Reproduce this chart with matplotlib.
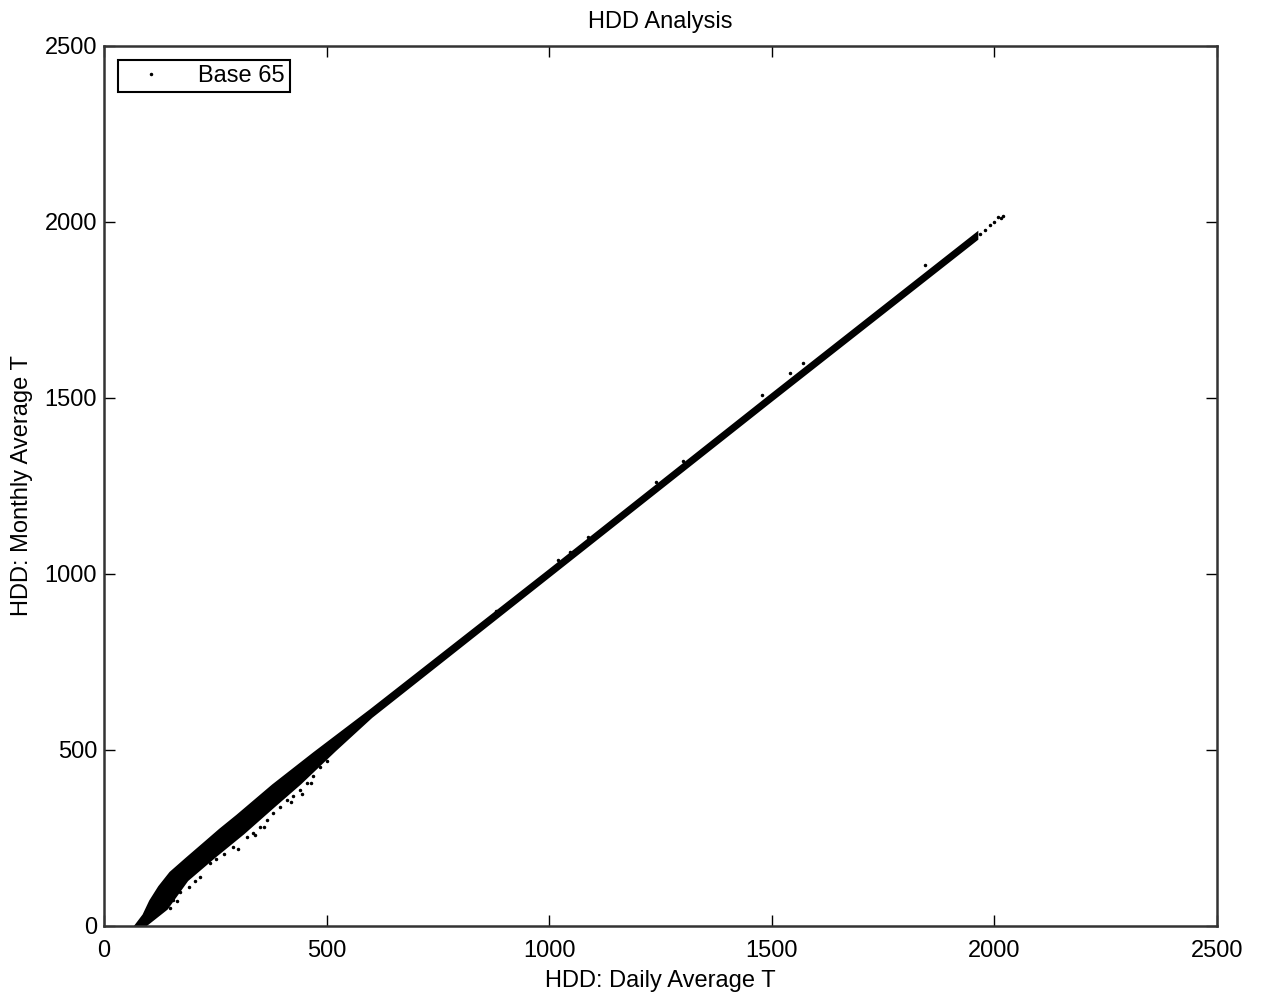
import numpy as np
import matplotlib.pyplot as plt

plt.rcParams['font.family'] = ['Liberation Sans', 'DejaVu Sans']

# dense part of the cloud: upper and lower edge of the band
band_upper_x = [72, 90, 105, 125, 150, 186, 230, 261, 300, 380, 473, 600, 1000, 1500, 1960]
band_upper_y = [0, 30, 70, 110, 150, 190, 238, 272, 312, 398, 490, 612, 1008, 1508, 1965]
band_lower_x = [90, 140, 186, 250, 312, 380, 440, 518, 600, 1000, 1500, 1960]
band_lower_y = [0, 50, 131, 200, 264, 340, 406, 500, 595, 995, 1495, 1952]

# scattered points below the band
low_x = [105, 118, 133, 148, 155, 163, 171, 190, 205, 216, 238, 252, 270, 290, 300, 321,
         335, 340, 350, 360, 366, 380, 395, 411, 420, 425, 440, 445, 456, 465, 470, 485, 500]
low_y = [30, 45, 54, 51, 74, 70, 97, 110, 128, 139, 179, 190, 205, 225, 218, 253,
         265, 258, 282, 280, 301, 320, 338, 358, 352, 370, 385, 375, 406, 405, 425, 452, 468]

# specks just above the line and the sparse tail
high_x = [880, 1020, 1047, 1087, 1240, 1300, 1478, 1541, 1570, 1844,
          1968, 1980, 1990, 2000, 2008, 2015, 2020]
high_y = [895, 1040, 1062, 1105, 1262, 1322, 1508, 1571, 1600, 1878,
          1966, 1977, 1991, 1999, 2014, 2012, 2018]

fig = plt.figure(figsize=(12.61, 9.99), dpi=100)
ax = fig.add_axes([0.0825, 0.0731, 0.8826, 0.8809])

ax.fill(np.r_[band_upper_x, band_lower_x[::-1]], np.r_[band_upper_y, band_lower_y[::-1]],
        color='k', lw=2.5)
pts, = ax.plot(low_x + high_x, low_y + high_y, '.', color='k', ms=3, label='Base 65')

ax.set_xlim(0, 2500)
ax.set_ylim(0, 2500)
ax.set_xticks(np.arange(0, 2501, 500))
ax.set_yticks(np.arange(0, 2501, 500))
ax.tick_params(direction='in', length=8, width=1, top=True, right=True, labelsize=17)
ax.tick_params(axis='x', pad=10)
ax.tick_params(axis='y', pad=5)
for sp in ax.spines.values():
    sp.set_linewidth(1.8)
    sp.set_color('#333333')

ax.set_title('HDD Analysis', fontsize=17, pad=13)
ax.set_xlabel('HDD: Daily Average T', fontsize=17, labelpad=6)
ax.set_ylabel('HDD: Monthly Average T', fontsize=17, labelpad=8)

leg = ax.legend(handles=[pts], loc='upper left', fontsize=17, fancybox=False,
                edgecolor='k', framealpha=1, borderpad=0.2, handlelength=2.4,
                handletextpad=0.8, markerscale=1, borderaxespad=0.6)
leg.get_frame().set_linewidth(1.5)

fig.savefig('out.png', dpi=100)
